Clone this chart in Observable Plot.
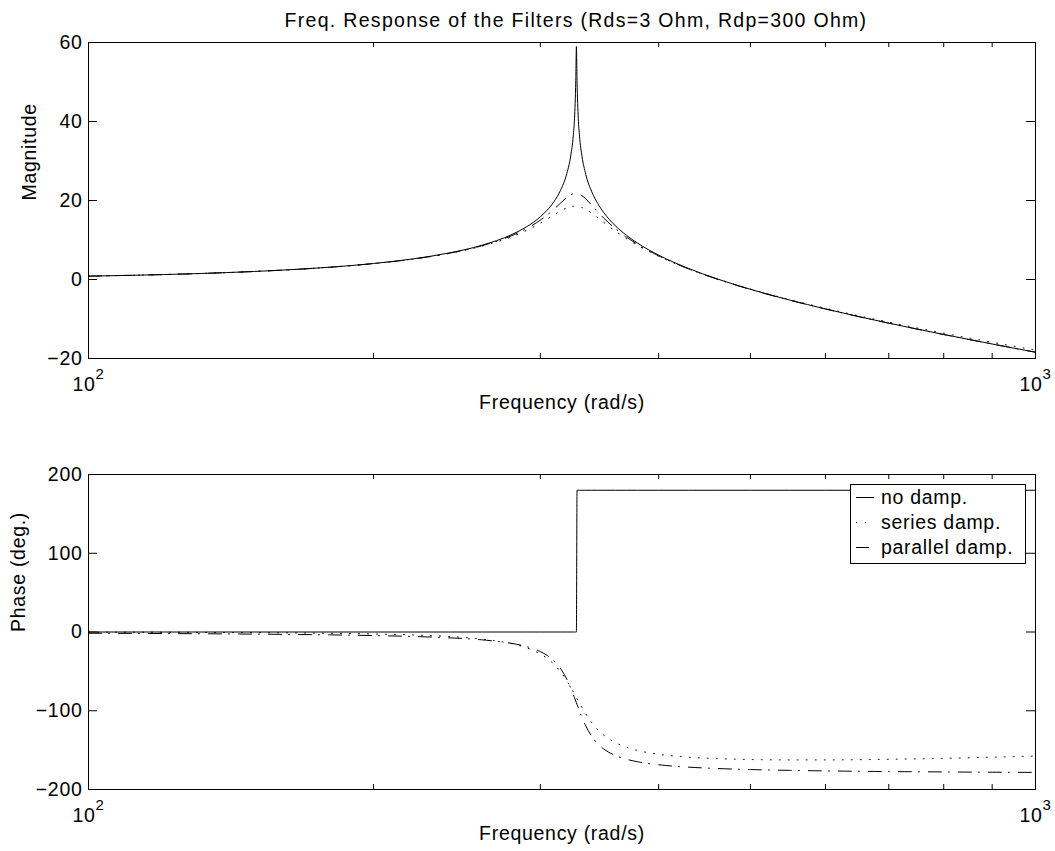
<!DOCTYPE html>
<html><head><meta charset="utf-8">
<script src="https://cdn.jsdelivr.net/npm/d3@7"></script>
<script src="https://cdn.jsdelivr.net/npm/@observablehq/plot@0.6"></script>
<style>
body{margin:0;background:#fff;}
#chart{position:relative;width:1055px;height:851px;background:#fff;overflow:hidden;}
#chart > svg{position:absolute;left:0;}
#chart text{letter-spacing:0.7px;}
</style></head><body><div id="chart"></div>
<script>
// ---- data ----
const titleText = "Freq. Response of the Filters (Rds=3 Ohm, Rdp=300 Ohm)";
const xLabel = "Frequency (rad/s)";
const seriesNames = ["no damp.", "series damp.", "parallel damp."];

const freqs = [100,120,140,160,180,200,220,240,260,280,290,300,305,310,315,320,323,325,326,327,327.5,328,329,330,332,335,340,345,350,360,370,380,400,430,460,500,550,600,700,800,900,1000];

const magNoDamp = [0.85,1.25,1.75,2.37,3.12,4.05,5.21,6.69,8.64,11.40,13.32,15.87,17.54,19.66,22.51,26.88,31.28,36.36,40.79,50.31,59.0,50.29,40.75,36.31,31.16,26.68,22.18,19.19,16.95,13.62,11.17,9.21,6.17,2.81,0.24,-2.48,-5.20,-7.45,-11.05,-13.92,-16.33,-18.41];
const magSeries = [0.85,1.25,1.75,2.36,3.11,4.02,5.15,6.57,8.41,10.87,12.43,14.28,15.30,16.34,17.33,18.13,18.44,18.54,18.56,18.56,18.55,18.53,18.48,18.41,18.21,17.77,16.78,15.63,14.46,12.25,10.32,8.65,5.89,2.71,0.23,-2.42,-5.09,-7.28,-10.80,-13.59,-15.90,-17.88];
const magParallel = [0.85,1.25,1.75,2.36,3.11,4.03,5.17,6.62,8.51,11.12,12.86,15.03,16.32,17.76,19.31,20.78,21.44,21.71,21.78,21.81,21.80,21.78,21.70,21.58,21.22,20.43,18.80,17.13,15.57,12.89,10.71,8.90,5.99,2.71,0.18,-2.52,-5.23,-7.46,-11.06,-13.93,-16.33,-18.41];

const phaseNoDamp = [0,0,0,0,0,0,0,0,0,0,0,0,0,0,0,0,0,0,0,0,0,180,180,180,180,180,180,180,180,180,180,180,180,180,180,180,180,180,180,180,180,180];
const phaseSeries = [-0.21,-0.39,-0.65,-1.04,-1.61,-2.46,-3.72,-5.69,-8.94,-14.92,-20.01,-27.91,-33.56,-40.86,-50.29,-62.10,-70.21,-75.93,-78.84,-81.75,-83.21,-84.67,-87.57,-90.43,-96.04,-103.89,-115.14,-124.04,-130.92,-140.40,-146.39,-150.39,-155.26,-158.93,-160.75,-161.92,-162.43,-162.41,-161.65,-160.44,-159.03,-157.52];
const phaseParallel = [-1.57,-1.97,-2.44,-2.99,-3.66,-4.53,-5.68,-7.33,-9.90,-14.49,-18.44,-24.84,-29.71,-36.49,-46.24,-60.32,-71.20,-79.32,-83.56,-87.85,-90.00,-92.15,-96.41,-100.58,-108.56,-119.12,-132.67,-142.03,-148.56,-156.78,-161.62,-164.76,-168.58,-171.61,-173.31,-174.67,-175.71,-176.38,-177.21,-177.71,-178.05,-178.29];

const xMajorTicks = [100, 1000];
const xMajorExponents = ["2", "3"];
const xMinorTicks = [200,300,400,500,600,700,800,900];
const yTicksMag = [-20,0,20,40,60];
const yTicksPhase = [-200,-100,0,100,200];

// ---- styling ----
const FONT = "'Liberation Sans', Arial, Helvetica, sans-serif";
const FS = 19.5;
const W = 1055, mL = 88, mR = 20;
const innerW = W - mL - mR;
const styles = [
  {dash: null},
  {dash: "1,8"},
  {dash: "13,7,1,9"}
];
const fmt = d => d < 0 ? "\u2212" + Math.abs(d) : String(d);

function subplot({values, yDomain, yTicks, height, mT, mB, yLabel, yLabelDx, title}) {
  const innerH = height - mT - mB;
  const marks = [];
  values.forEach((arr, k) => {
    const rows = freqs.map((f, i) => ({f, v: arr[i]}));
    marks.push(Plot.line(rows, {x: "f", y: "v", stroke: "black", strokeWidth: 1,
      strokeDasharray: styles[k].dash, curve: "monotone-x"}));
  });
  // inward ticks on all sides
  marks.push(Plot.tickX(xMinorTicks, {x: d => d, insetTop: innerH - 5, stroke: "black"}));
  marks.push(Plot.tickX(xMinorTicks, {x: d => d, insetBottom: innerH - 5, stroke: "black"}));
  marks.push(Plot.tickY(yTicks, {y: d => d, insetRight: innerW - 9, stroke: "black"}));
  marks.push(Plot.tickY(yTicks, {y: d => d, insetLeft: innerW - 9, stroke: "black"}));
  marks.push(Plot.frame({stroke: "black", strokeWidth: 1}));
  // tick labels
  marks.push(Plot.text(yTicks, {y: d => d, frameAnchor: "left", textAnchor: "end", dx: -6,
    text: fmt, fontSize: FS, fill: "black"}));
  marks.push(Plot.text(xMajorTicks, {x: d => d, frameAnchor: "bottom", textAnchor: "end",
    lineAnchor: "bottom", dx: 7, dy: 32, text: () => "10", fontSize: FS, fill: "black"}));
  marks.push(Plot.text(xMajorTicks, {x: d => d, frameAnchor: "bottom", textAnchor: "start",
    lineAnchor: "bottom", dx: 7, dy: 20, text: (d, i) => xMajorExponents[i], fontSize: 15, fill: "black"}));
  // axis labels
  marks.push(Plot.text([xLabel], {frameAnchor: "bottom", dy: 50, text: d => d, fontSize: FS, fill: "black"}));
  marks.push(Plot.text([yLabel], {frameAnchor: "left", dx: yLabelDx, rotate: -90, text: d => d, fontSize: FS, fill: "black"}));
  if (title) marks.push(Plot.text([title], {frameAnchor: "top", lineAnchor: "bottom", dx: 14, dy: -16, text: d => d, fontSize: FS, fill: "black"}));
  return Plot.plot({
    width: W, height, marginLeft: mL, marginRight: mR, marginTop: mT, marginBottom: mB,
    x: {type: "log", domain: [100, 1000], axis: null},
    y: {domain: yDomain, axis: null},
    style: {fontFamily: FONT, background: "white", color: "black", overflow: "visible"},
    marks
  });
}

const chart = document.getElementById("chart");
const p1 = subplot({values: [magNoDamp, magSeries, magParallel], yDomain: [-20, 60], yTicks: yTicksMag,
  height: 430, mT: 42, mB: 72, yLabel: "Magnitude", yLabelDx: -59, title: titleText});
p1.style.top = "0px";
chart.appendChild(p1);
d3.select(p1).selectAll("text").filter(function() { return this.textContent === titleText; })
  .style("letter-spacing", "1.3px");
const p2 = subplot({values: [phaseNoDamp, phaseSeries, phaseParallel], yDomain: [-200, 200], yTicks: yTicksPhase,
  height: 421, mT: 44, mB: 62, yLabel: "Phase (deg.)", yLabelDx: -70});
p2.style.top = "430px";
chart.appendChild(p2);

// legend box (top-right of the phase plot)
const lg = d3.select(chart).append("svg")
  .attr("width", 177).attr("height", 81)
  .style("position", "absolute").style("left", "850px").style("top", "484px")
  .style("font-family", FONT);
lg.append("rect").attr("x", 0.5).attr("y", 0.5).attr("width", 175).attr("height", 79)
  .attr("fill", "white").attr("stroke", "black");
seriesNames.forEach((name, k) => {
  const y = 13 + k * 25;
  lg.append("line").attr("x1", 6).attr("x2", 24).attr("y1", y + 0.5).attr("y2", y + 0.5)
    .attr("stroke", "black").attr("stroke-width", 1)
    .attr("stroke-dasharray", styles[k].dash || null);
  lg.append("text").attr("x", 31).attr("y", y).attr("dy", "0.34em")
    .attr("font-size", FS).attr("fill", "black").text(name);
});
</script></body></html>
